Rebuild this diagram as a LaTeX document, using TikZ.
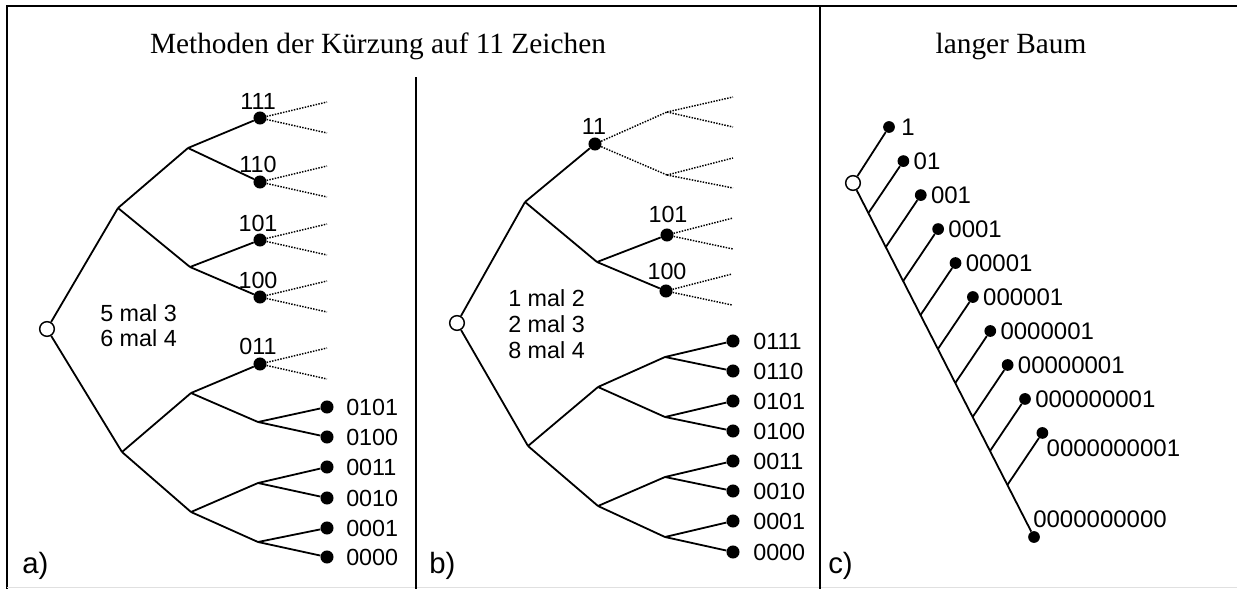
\documentclass[tikz,border=0pt]{standalone}
\usepackage{fontspec}
\setmainfont{Liberation Serif}
\setsansfont{Liberation Sans}
\usetikzlibrary{calc}
\begin{document}
\begin{tikzpicture}[x=0.75pt,y=-0.75pt,
  edge/.style={line width=1.35pt},
  dotline/.style={line width=1.1pt, densely dotted},
  frame/.style={line width=2pt},
  divider/.style={line width=1.6pt},
  fdot/.style={circle, fill=black, inner sep=0pt, minimum size=9.8pt},
  cdot/.style={circle, fill=black, inner sep=0pt, minimum size=8.8pt},
  odot/.style={circle, draw=black, fill=white, line width=1.1pt, inner sep=0pt, minimum size=11pt},
  lbl/.style={font=\sffamily\fontsize{17.5}{20}\selectfont, inner sep=0pt},
  clbl/.style={font=\sffamily\fontsize{18}{20}\selectfont, inner sep=0pt, anchor=west},
  tag/.style={font=\sffamily\fontsize{22}{26}\selectfont, inner sep=0pt, anchor=west},
  ttl/.style={font=\fontsize{22}{26}\selectfont, inner sep=0pt, anchor=base}]
\useasboundingbox (0,0) rectangle (1237,589);
\fill[white] (0,0) rectangle (1237,589);

% frame and dividers
\coordinate (fTR) at (1237,6);
\coordinate (fTL) at (7,6);
\coordinate (fBL) at (7,589);
\draw[frame] (fTR) -- (fTL) -- (fBL);
\coordinate (bb1) at (7,587);
\coordinate (bb2) at (1237,587);
\draw[black!12, line width=0.75pt] (bb1) -- (bb2);
\coordinate (dA1) at (416,77);
\coordinate (dA2) at (416,589);
\draw[divider] (dA1) -- (dA2);
\coordinate (dC1) at (820,6);
\coordinate (dC2) at (820,589);
\draw[divider] (dC1) -- (dC2);

% titles
\node[ttl] (t1) at (378,53) {Methoden der Kürzung auf 11 Zeichen};
\node[ttl] (t2) at (1011,53) {langer Baum};

% ================= panel a =================
\node[odot] (a0) at (47,329) {};
\coordinate (aU) at (118,208);
\coordinate (aL) at (122,452);
\coordinate (aUU) at (188,148);
\coordinate (aUL) at (190,267);
\coordinate (aLU) at (191,393);
\coordinate (aLL) at (191,512);
\coordinate (aLUL) at (258,422);
\coordinate (aLLU) at (258,483);
\coordinate (aLLL) at (258,542);
\node[fdot] (a111) at (260,118) {};
\node[fdot] (a110) at (260,182) {};
\node[fdot] (a101) at (260,240) {};
\node[fdot] (a100) at (260,297) {};
\node[fdot] (a011) at (260,364) {};
\node[fdot] (a0101) at (327,407) {};
\node[fdot] (a0100) at (327,437) {};
\node[fdot] (a0011) at (327,467) {};
\node[fdot] (a0010) at (327,498) {};
\node[fdot] (a0001) at (327,528) {};
\node[fdot] (a0000) at (327,557) {};

\draw[edge] (a0) -- (aU);
\draw[edge] (a0) -- (aL);
\draw[edge] (aU) -- (aUU);
\draw[edge] (aU) -- (aUL);
\draw[edge] (aL) -- (aLU);
\draw[edge] (aL) -- (aLL);
\draw[edge] (aUU) -- (a111);
\draw[edge] (aUU) -- (a110);
\draw[edge] (aUL) -- (a101);
\draw[edge] (aUL) -- (a100);
\draw[edge] (aLU) -- (a011);
\draw[edge] (aLU) -- (aLUL);
\draw[edge] (aLL) -- (aLLU);
\draw[edge] (aLL) -- (aLLL);
\draw[edge] (aLUL) -- (a0101);
\draw[edge] (aLUL) -- (a0100);
\draw[edge] (aLLU) -- (a0011);
\draw[edge] (aLLU) -- (a0010);
\draw[edge] (aLLL) -- (a0001);
\draw[edge] (aLLL) -- (a0000);

\foreach \n in {a111,a110,a101,a100,a011}{
  \draw[dotline] (\n) -- ++(67,-16) coordinate (\n u);
  \draw[dotline] (\n) -- ++(67,15) coordinate (\n d);
}

\node[lbl] (la111) at ($(a111)+(-2,-17)$) {111};
\node[lbl] (la110) at ($(a110)+(-2,-18)$) {110};
\node[lbl] (la101) at ($(a101)+(-2,-17)$) {101};
\node[lbl] (la100) at ($(a100)+(-2,-17)$) {100};
\node[lbl] (la011) at ($(a011)+(-2,-18)$) {011};
\node[lbl, anchor=west] (la0101) at ($(a0101)+(19,0)$) {0101};
\node[lbl, anchor=west] (la0100) at ($(a0100)+(19,0)$) {0100};
\node[lbl, anchor=west] (la0011) at ($(a0011)+(19,0)$) {0011};
\node[lbl, anchor=west] (la0010) at ($(a0010)+(19,0)$) {0010};
\node[lbl, anchor=west] (la0001) at ($(a0001)+(19,0)$) {0001};
\node[lbl, anchor=west] (la0000) at ($(a0000)+(19,0)$) {0000};

\node[lbl, anchor=west, align=left, font=\sffamily\fontsize{17.5}{18.75}\selectfont] (acount) at (100,326) {5 mal 3\\6 mal 4};
\node[tag] (atag) at (22,566) {a)};

% ================= panel b =================
\node[odot] (b0) at (457,323) {};
\coordinate (bU) at (525,202);
\coordinate (bL) at (528,446);
\coordinate (bUL) at (597,262);
\coordinate (bLU) at (598,387);
\coordinate (bLL) at (598,506);
\coordinate (bLUU) at (665,357);
\coordinate (bLUL) at (665,417);
\coordinate (bLLU) at (665,477);
\coordinate (bLLL) at (665,537);
\node[fdot] (b11) at (595,144) {};
\node[fdot] (b101) at (667,235) {};
\node[fdot] (b100) at (666,291) {};
\node[fdot] (b0111) at (733,341) {};
\node[fdot] (b0110) at (733,371) {};
\node[fdot] (b0101) at (733,401) {};
\node[fdot] (b0100) at (733,431) {};
\node[fdot] (b0011) at (733,461) {};
\node[fdot] (b0010) at (733,491) {};
\node[fdot] (b0001) at (733,521) {};
\node[fdot] (b0000) at (733,552) {};

\draw[edge] (b0) -- (bU);
\draw[edge] (b0) -- (bL);
\draw[edge] (bU) -- (b11);
\draw[edge] (bU) -- (bUL);
\draw[edge] (bUL) -- (b101);
\draw[edge] (bUL) -- (b100);
\draw[edge] (bL) -- (bLU);
\draw[edge] (bL) -- (bLL);
\draw[edge] (bLU) -- (bLUU);
\draw[edge] (bLU) -- (bLUL);
\draw[edge] (bLL) -- (bLLU);
\draw[edge] (bLL) -- (bLLL);
\draw[edge] (bLUU) -- (b0111);
\draw[edge] (bLUU) -- (b0110);
\draw[edge] (bLUL) -- (b0101);
\draw[edge] (bLUL) -- (b0100);
\draw[edge] (bLLU) -- (b0011);
\draw[edge] (bLLU) -- (b0010);
\draw[edge] (bLLL) -- (b0001);
\draw[edge] (bLLL) -- (b0000);

\coordinate (bd1) at (667,112);
\coordinate (bd2) at (667,175);
\draw[dotline] (b11) -- (bd1);
\draw[dotline] (b11) -- (bd2);
\draw[dotline] (bd1) -- ++(66,-15) coordinate (bd1u);
\draw[dotline] (bd1) -- ++(66,15) coordinate (bd1d);
\draw[dotline] (bd2) -- ++(66,-17) coordinate (bd2u);
\draw[dotline] (bd2) -- ++(66,13) coordinate (bd2d);
\foreach \n in {b101,b100}{
  \draw[dotline] (\n) -- ++(66,-17) coordinate (\n u);
  \draw[dotline] (\n) -- ++(66,14) coordinate (\n d);
}

\node[lbl] (lb11) at ($(b11)+(-1,-18)$) {11};
\node[lbl] (lb101) at ($(b101)+(1,-21)$) {101};
\node[lbl] (lb100) at ($(b100)+(1,-20)$) {100};
\foreach \n/\t in {b0111/0111,b0110/0110,b0101/0101,b0100/0100,b0011/0011,b0010/0010,b0001/0001,b0000/0000}{
  \node[lbl, anchor=west] (l\n) at ($(\n)+(20,0)$) {\t};
}

\node[lbl, anchor=west, align=left, font=\sffamily\fontsize{17.5}{19.5}\selectfont] (bcount) at (508,324) {1 mal 2\\2 mal 3\\8 mal 4};
\node[tag] (btag) at (429,566) {b)};

% ================= panel c =================
\node[odot] (c0) at (853,183) {};
\node[cdot] (cE) at (1034,537) {};
\draw[edge] (c0) -- (cE);
\node[cdot] (cone) at ($(c0)+(36,-56)$) {};
\draw[edge] (c0) -- (cone);
\node[clbl] (lcone) at ($(cone)+(12,0)$) {1};

\foreach \k/\t in {1/01,2/001,3/0001,4/00001,5/000001,6/0000001,7/00000001,8/000000001}{
  \coordinate (cb\k) at ($(c0)!{0.085+0.096*(\k-1)}!(cE)$);
  \node[cdot] (c\k) at ($(cb\k)+(35,-52)$) {};
  \draw[edge] (cb\k) -- (c\k);
  \node[clbl] (lc\k) at ($(c\k)+(10,0)$) {\t};
}
\coordinate (cb9) at ($(c0)!{0.085+0.096*8}!(cE)$);
\node[cdot] (c9) at ($(cb9)+(35,-52)$) {};
\draw[edge] (cb9) -- (c9);
\node[clbl] (lc9) at ($(c9)+(4,15)$) {0000000001};
\node[clbl] (lcE) at ($(cE)+(-1,-18)$) {0000000000};

\node[tag] (ctag) at (828,566) {c)};
\end{tikzpicture}
\end{document}
